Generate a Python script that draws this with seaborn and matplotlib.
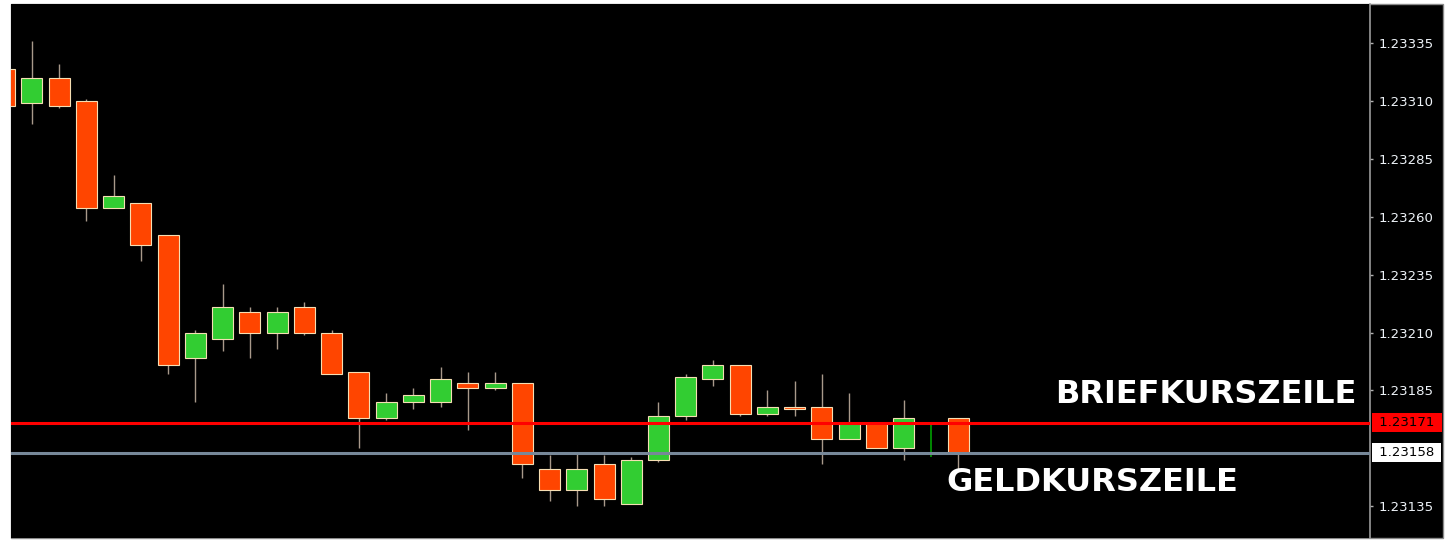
"""MT4-style candlestick chart with ask (Briefkurs) and bid (Geldkurs) lines."""
import matplotlib

matplotlib.use("Agg")
import matplotlib.pyplot as plt
import matplotlib.transforms as mtransforms
import numpy as np
import seaborn as sns
from matplotlib.patches import Rectangle

# candle data (index 0 is the partly hidden candle at the left edge)
opens = [1.23324, 1.23309, 1.23320, 1.23310, 1.23264, 1.23266, 1.23252, 1.23199, 1.23207,
         1.23219, 1.23210, 1.23221, 1.23210, 1.23193, 1.23173, 1.23180, 1.23180, 1.23188,
         1.23186, 1.23188, 1.23151, 1.23142, 1.23153, 1.23136, 1.23155, 1.23174, 1.23190,
         1.23196, 1.23175, 1.23178, 1.23178, 1.23164, 1.23171, 1.23160, 1.23158, 1.23173]
highs = [1.23326, 1.23336, 1.23326, 1.23311, 1.23278, 1.23266, 1.23252, 1.23211, 1.23231,
         1.23221, 1.23221, 1.23223, 1.23211, 1.23193, 1.23184, 1.23186, 1.23195, 1.23193,
         1.23193, 1.23188, 1.23157, 1.23158, 1.23157, 1.23156, 1.23180, 1.23192, 1.23198,
         1.23196, 1.23185, 1.23189, 1.23192, 1.23184, 1.23171, 1.23181, 1.23170, 1.23173]
lows = [1.23306, 1.23300, 1.23307, 1.23258, 1.23264, 1.23241, 1.23192, 1.23180, 1.23202,
        1.23199, 1.23203, 1.23209, 1.23192, 1.23160, 1.23172, 1.23177, 1.23178, 1.23168,
        1.23185, 1.23147, 1.23137, 1.23135, 1.23135, 1.23136, 1.23154, 1.23172, 1.23187,
        1.23174, 1.23174, 1.23174, 1.23153, 1.23164, 1.23160, 1.23155, 1.23156, 1.23151]
closes = [1.23308, 1.23320, 1.23308, 1.23264, 1.23269, 1.23248, 1.23196, 1.23210, 1.23221,
          1.23210, 1.23219, 1.23210, 1.23192, 1.23173, 1.23180, 1.23183, 1.23190, 1.23186,
          1.23188, 1.23153, 1.23142, 1.23151, 1.23138, 1.23155, 1.23174, 1.23191, 1.23196,
          1.23175, 1.23178, 1.23177, 1.23164, 1.23171, 1.23160, 1.23173, 1.23158, 1.23158]

ask_price = 1.23171
bid_price = 1.23158
y_ticks = [1.23135, 1.23185, 1.23210, 1.23235, 1.23260, 1.23285, 1.23310, 1.23335]
y_tick_labels = ["1.23135", "1.23185", "1.23210", "1.23235", "1.23260",
                 "1.23285", "1.23310", "1.23335"]
ask_label = "BRIEFKURSZEILE"
bid_label = "GELDKURSZEILE"

BULL = "#32cd32"
BEAR = "#ff4500"
EDGE = "#f5deb3"
WICK = "#a8998a"

sns.set_theme(style="dark", rc={"axes.facecolor": "black", "figure.facecolor": "white"})
plt.rcParams["font.family"] = ["DejaVu Sans"]

W, H = 1455, 543
fig = plt.figure(figsize=(W / 100, H / 100), dpi=100)

# black chart window behind the axes (incl. the price scale on the right)
fig.patches.append(Rectangle((11 / W, 5 / H), 1432 / W, 534 / H, transform=fig.transFigure,
                             facecolor="black", edgecolor="#8a8a8a", linewidth=1, zorder=-1))

ax = fig.add_axes([11 / W, 5 / H, 1359 / W, 534 / H])
ax.set_facecolor("black")

o = np.array(opens)
c = np.array(closes)
hi = np.array(highs)
lo = np.array(lows)
x = np.arange(len(o))
up = c > o
down = c < o
doji = c == o

# wicks
ax.vlines(x[~doji], lo[~doji], hi[~doji], color=WICK, linewidth=1.0, zorder=2)
ax.vlines(x[doji], lo[doji], hi[doji], color="#00a000", linewidth=1.2, zorder=2)

# bodies
ax.bar(x[up], (c - o)[up], bottom=o[up], width=0.77, color=BULL,
       edgecolor=EDGE, linewidth=0.8, zorder=3)
ax.bar(x[down], (o - c)[down], bottom=c[down], width=0.77, color=BEAR,
       edgecolor=EDGE, linewidth=0.8, zorder=3)

# ask / bid lines
ax.axhline(ask_price, color="#ff0000", linewidth=2.2, zorder=5)
ax.axhline(bid_price, color="#778899", linewidth=2.2, zorder=5)

ax.set_xlim(0.23, 50.12)
ax.set_ylim(1.231212, 1.233520)
ax.set_xticks([])
ax.yaxis.tick_right()
ax.set_yticks(y_ticks)
ax.set_yticklabels(y_tick_labels)
ax.tick_params(axis="y", which="both", right=True, length=2, width=1, color="#b0b0b0",
               pad=4.5, labelsize=9.5, labelcolor="#eef3f8")
ax.grid(False)
for side in ["left", "top", "bottom"]:
    ax.spines[side].set_visible(False)
ax.spines["right"].set_color("#9a9a9a")
ax.spines["right"].set_linewidth(1.2)

# price boxes on the scale
blend = mtransforms.blended_transform_factory(ax.transAxes, ax.transData)
for price, face in [(ask_price, "#ff0000"), (bid_price, "white")]:
    ax.text(1.0037, price, f" {price:.5f} ", transform=blend, ha="left", va="center",
            fontsize=9.5, color="black", zorder=7, clip_on=False,
            bbox=dict(boxstyle="square,pad=0.22", facecolor=face, edgecolor="none"))

# labels for the two lines
ax.text(0.9904, 1.231795, ask_label, transform=blend, ha="right", va="baseline",
        fontsize=23, fontweight="bold", color="white", zorder=8)
ax.text(0.688, 1.231415, bid_label, transform=blend, ha="left", va="baseline",
        fontsize=23, fontweight="bold", color="white", zorder=8)

plt.savefig("out.png", dpi=100, facecolor="white")
plt.close(fig)
